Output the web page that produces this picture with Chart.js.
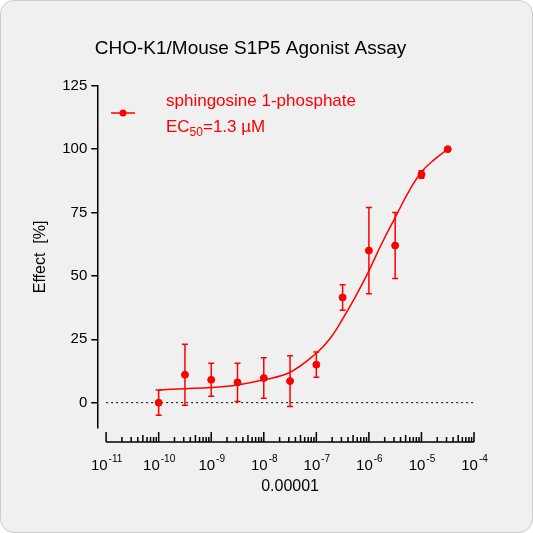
<!DOCTYPE html><html><head><script src="https://cdn.jsdelivr.net/npm/chart.js@4"></script>
<style>body{margin:0;background:#fff}#w{width:531px;height:531px;border:1px solid #ccc;border-radius:14px;background:#f0f0f0;overflow:hidden}</style></head><body><div id="w"><canvas id="c" width="531" height="531"></canvas></div>
<script>
const logConc=[-10,-9.5,-9,-8.5,-8,-7.5,-7,-6.5,-6,-5.5,-5,-4.5];
const effect=[0,11,9,8,9.7,8.5,15,41.5,60,62,90,100];
const errs=[5,12,6.5,7.5,8,10,5,5,17,13,1.5,0.5];
const fitX=[-10,-9.5,-9,-8.5,-8,-7.5,-7,-6.75,-6.5,-6.25,-6,-5.75,-5.5,-5.25,-5,-4.75,-4.5];
const fitY=[5,5.5,6,7,9,12,19.5,25,33,42,52,63,73,83,91,96,100];
const xTickExps=['-11','-10','-9','-8','-7','-6','-5','-4'];
const red='#ff0000';
const F='"Liberation Sans", Arial, sans-serif';
const extras={id:'extras',afterDatasetsDraw(ch){
 const c=ch.ctx,x=ch.scales.x,y=ch.scales.y,a=ch.chartArea;
 c.save();c.strokeStyle=red;c.lineWidth=1.5;
 logConc.forEach((v,i)=>{const px=x.getPixelForValue(v),t=y.getPixelForValue(effect[i]+errs[i]),b=y.getPixelForValue(effect[i]-errs[i]);
  c.beginPath();c.moveTo(px,t);c.lineTo(px,b);c.moveTo(px-3,t);c.lineTo(px+3,t);c.moveTo(px-3,b);c.lineTo(px+3,b);c.stroke();});
 // x axis
 const ay=a.bottom+14;c.strokeStyle='#000';c.lineWidth=1.5;c.beginPath();
 c.moveTo(x.getPixelForValue(-11),ay);c.lineTo(x.getPixelForValue(-4),ay);
 for(let d=-11;d<=-4;d++){const p=x.getPixelForValue(d);c.moveTo(p,ay);c.lineTo(p,ay-10);
  if(d<-4)for(let m=2;m<=9;m++){const q=x.getPixelForValue(d+Math.log10(m));c.moveTo(q,ay);c.lineTo(q,ay-(m==5?7:5));}}
 c.stroke();
 c.fillStyle='#000';c.textBaseline='alphabetic';
 xTickExps.forEach((e,i)=>{const p=x.getPixelForValue(-11+i);c.font='15px '+F;const w1=c.measureText('10').width;
  c.font='10px '+F;const w2=c.measureText(e).width;const s=p-(w1+w2)/2;
  c.font='15px '+F;c.fillText('10',s,ay+28);c.font='10px '+F;c.fillText(e,s+w1+1,ay+20);});
 c.font='16px '+F;c.textAlign='center';c.fillText('0.00001',(x.getPixelForValue(-11)+x.getPixelForValue(-4))/2,ay+49);c.textAlign='left';
 // legend
 c.strokeStyle=red;c.fillStyle=red;c.lineWidth=1.5;c.beginPath();c.moveTo(110,112);c.lineTo(134,112);c.stroke();
 c.beginPath();c.arc(122,112,3.5,0,7);c.fill();
 c.font='17px '+F;c.fillText('sphingosine 1-phosphate',165,105);
 c.fillText('EC',165,131);let w=c.measureText('EC').width;c.font='12px '+F;c.fillText('50',165+w,135);
 let w2=c.measureText('50').width;c.font='17px '+F;c.fillText('=1.3 µM',165+w+w2,131);
 c.restore();}};
new Chart(document.getElementById('c'),{type:'scatter',data:{datasets:[
 {data:logConc.map((v,i)=>({x:v,y:effect[i]})),backgroundColor:red,borderColor:red,pointRadius:3.5},
 {type:'line',data:fitX.map((v,i)=>({x:v,y:fitY[i]})),borderColor:red,borderWidth:1.5,pointRadius:0,tension:0.4,fill:false},
 {type:'line',data:[{x:-11,y:0},{x:-4,y:0}],borderColor:'#000',borderWidth:1,borderDash:[2,3],pointRadius:0}]},
 options:{animation:false,responsive:false,layout:{padding:{left:26,right:58,top:0,bottom:96}},
 plugins:{legend:{display:false},tooltip:{enabled:false},title:{display:true,text:'CHO-K1/Mouse S1P5 Agonist Assay',color:'#000',font:{family:F,size:19,weight:'normal'},padding:{top:36,bottom:26}}},
 scales:{x:{type:'linear',min:-11.15,max:-4,ticks:{display:false},grid:{display:false},border:{display:false}},
 y:{min:-10,max:125,afterBuildTicks(s){s.ticks=[0,25,50,75,100,125].map(v=>({value:v}));},
  ticks:{color:'#000',font:{family:F,size:15},padding:4},grid:{drawOnChartArea:false,color:'#000',tickLength:7,lineWidth:1.5},
  border:{color:'#000',width:1.5},title:{display:true,text:'Effect  [%]',color:'#000',font:{family:F,size:16},padding:{bottom:8}}}}},
 plugins:[extras]});
</script></body></html>
